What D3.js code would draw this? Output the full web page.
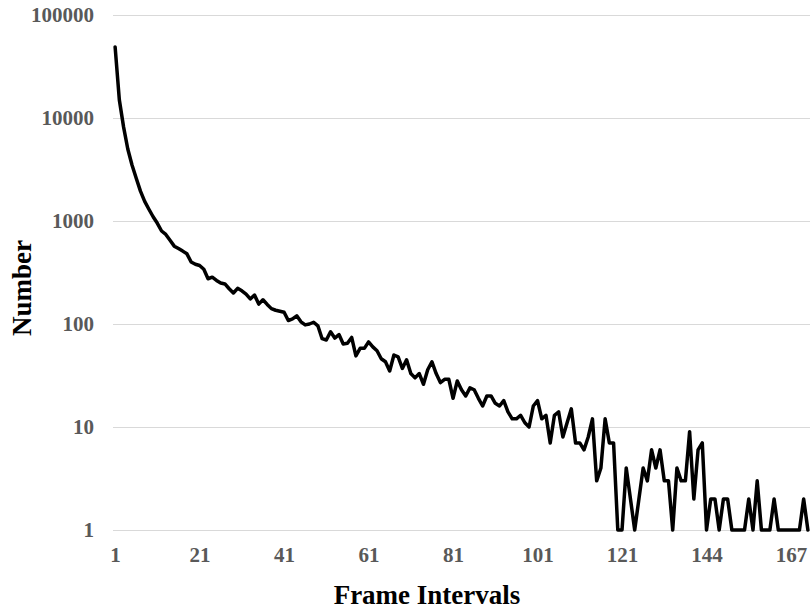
<!DOCTYPE html>
<html lang="en">
    <head>
        <meta charset="utf-8">
        <title>Frame Intervals</title>
        <script type="text/javascript" src="https://cdn.jsdelivr.net/npm/d3@7"></script>
        <style type="text/css">
          body { margin: 0; background: white; }

          .axis path,
          .axis line {
              fill: none;
              stroke: none;
          }

          .axis text {
              font-family: "Liberation Serif", "Times New Roman", serif;
              font-weight: bold;
              font-size: 21px;
              fill: #595959;
          }

          .grid line {
              stroke: #d9d9d9;
              stroke-width: 1.3;
              shape-rendering: crispEdges;
          }

          .title {
              font-family: "Liberation Serif", "Times New Roman", serif;
              font-weight: bold;
              font-size: 27px;
              fill: black;
          }
        </style>
    </head>
    <body>
        <script type="text/javascript">
            //Frame interval categories (gaps after 121 are intervals that never occurred)
            var intervals = [
                1, 2, 3, 4, 5, 6, 7, 8, 9, 10, 11, 12, 13, 14, 15, 16, 17, 18, 19, 20,
                21, 22, 23, 24, 25, 26, 27, 28, 29, 30, 31, 32, 33, 34, 35, 36, 37, 38, 39, 40,
                41, 42, 43, 44, 45, 46, 47, 48, 49, 50, 51, 52, 53, 54, 55, 56, 57, 58, 59, 60,
                61, 62, 63, 64, 65, 66, 67, 68, 69, 70, 71, 72, 73, 74, 75, 76, 77, 78, 79, 80,
                81, 82, 83, 84, 85, 86, 87, 88, 89, 90, 91, 92, 93, 94, 95, 96, 97, 98, 99, 100,
                101, 102, 103, 104, 105, 106, 107, 108, 109, 110, 111, 112, 113, 114, 115, 116, 117, 118, 119, 120,
                121, 122, 123, 124, 125, 126, 128, 129, 130, 131, 132, 133, 135, 136, 137, 138, 139, 141, 142, 143,
                144, 145, 146, 147, 148, 149, 151, 152, 153, 154, 155, 157, 158, 159, 160, 161, 163, 164, 165, 166,
                167, 168, 170, 171, 174
            ];

            //Number of occurrences for each interval
            var counts = [
                49000, 15000, 8200, 5000, 3500, 2600, 1950, 1550, 1300, 1100,
                950, 800, 740, 650, 570, 540, 510, 480, 400, 380,
                370, 340, 275, 285, 265, 250, 245, 220, 200, 222,
                210, 195, 175, 191, 156, 172, 155, 141, 136, 133,
                130, 108, 112, 120, 105, 98, 100, 104, 96, 72,
                70, 84, 73, 79, 64, 65, 74, 49, 58, 58,
                67, 60, 55, 46, 43, 35, 50, 48, 37, 45,
                33, 30, 33, 26, 36, 43, 33, 27, 29, 29,
                19, 28, 23, 20, 24, 23, 19, 16, 20, 20,
                17, 16, 18, 14, 12, 12, 13, 11, 10, 16,
                18, 12, 13, 7, 13, 14, 8, 11, 15, 7,
                7, 6, 8, 12, 3, 4, 12, 7, 7, 1,
                1, 4, 2, 1, 2, 4, 3, 6, 4, 6,
                3, 3, 1, 4, 3, 3, 9, 2, 6, 7,
                1, 2, 2, 1, 2, 2, 1, 1, 1, 1,
                2, 1, 3, 1, 1, 1, 2, 1, 1, 1,
                1, 1, 1, 2, 1
            ];

            //Axis labels
            var xTickLabels = [1, 21, 41, 61, 81, 101, 121, 144, 167];
            var yTickLabels = [1, 10, 100, 1000, 10000, 100000];

            var w = 810;
            var h = 612;
            var plotLeft = 113, plotRight = 810, plotTop = 15, plotBottom = 530;

            var dataset = intervals.map(function(d, i) {
                return { interval: d, count: counts[i] };
            });

            //Create scale functions
            var xScale = d3.scalePoint()
                           .domain(intervals)
                           .range([plotLeft, plotRight])
                           .padding(0.5);

            var yScale = d3.scaleLog()
                           .domain([1, 100000])
                           .range([plotBottom, plotTop]);

            //Create SVG element
            var svg = d3.select("body")
                        .append("svg")
                        .attr("width", w)
                        .attr("height", h);

            //Gridlines
            svg.append("g")
               .attr("class", "grid")
               .selectAll("line")
               .data(yTickLabels)
               .enter()
               .append("line")
               .attr("x1", plotLeft)
               .attr("x2", plotRight)
               .attr("y1", function(d) { return Math.round(yScale(d)) + 0.5; })
               .attr("y2", function(d) { return Math.round(yScale(d)) + 0.5; });

            //Define Y axis
            var yAxis = d3.axisLeft()
                          .scale(yScale)
                          .tickValues(yTickLabels)
                          .tickFormat(d3.format("d"))
                          .tickSize(0)
                          .tickPadding(0);

            svg.append("g")
               .attr("class", "axis")
               .attr("transform", "translate(94,0)")
               .call(yAxis);

            //Define X axis
            var xAxis = d3.axisBottom()
                          .scale(xScale)
                          .tickValues(xTickLabels)
                          .tickSize(0)
                          .tickPadding(0);

            svg.append("g")
               .attr("class", "axis")
               .attr("transform", "translate(0," + (plotBottom + 17) + ")")
               .call(xAxis);

            //Create line
            var line = d3.line()
                         .x(function(d) { return xScale(d.interval); })
                         .y(function(d) { return yScale(d.count); });

            svg.append("path")
               .datum(dataset)
               .attr("d", line)
               .attr("fill", "none")
               .attr("stroke", "black")
               .attr("stroke-width", 3.5)
               .attr("stroke-linejoin", "round")
               .attr("stroke-linecap", "round");

            //Axis titles
            svg.append("text")
               .attr("class", "title")
               .attr("x", 427)
               .attr("y", 604)
               .attr("text-anchor", "middle")
               .text("Frame Intervals");

            svg.append("text")
               .attr("class", "title")
               .attr("transform", "translate(31,288) rotate(-90)")
               .attr("text-anchor", "middle")
               .text("Number");
        </script>
    </body>
</html>
